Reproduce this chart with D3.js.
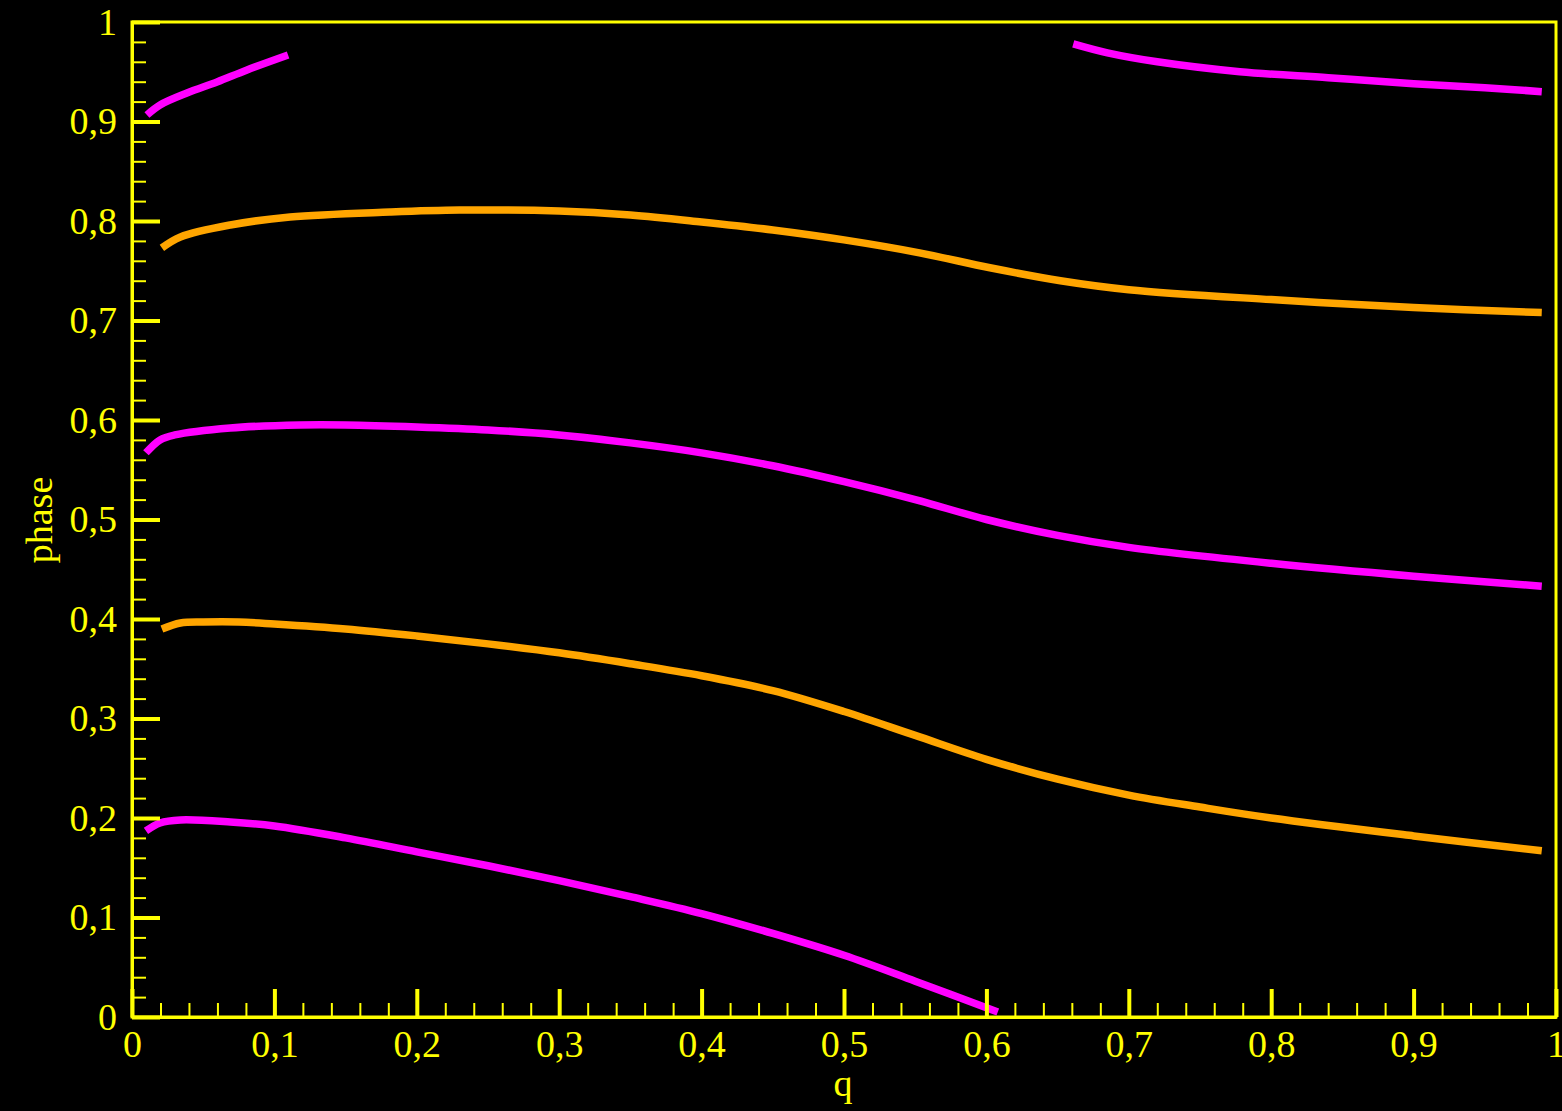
<!DOCTYPE html>
<html>
<head>
<meta charset="utf-8">
<script src="https://cdn.jsdelivr.net/npm/d3@7"></script>
<style>
  html, body { margin: 0; padding: 0; background: #000; }
  svg { display: block; }
  text { font-family: "Liberation Serif", "Times New Roman", serif; fill: #ffff00; }
</style>
</head>
<body>
<svg id="chart" width="1562" height="1111"></svg>
<script>
// Branch curves: [q, phase] pairs
const magentaTop = [
  [0.0105, 0.9065], [0.0197, 0.9166], [0.0386, 0.9286], [0.0597, 0.9397],
  [0.0808, 0.9518], [0.1096, 0.9668]
];
const magentaTopRight = [
  [0.661, 0.978], [0.685, 0.969], [0.720, 0.960], [0.778, 0.950],
  [0.840, 0.944], [0.900, 0.938], [0.950, 0.934], [0.990, 0.930]
];
const orangeUpper = [
  [0.021, 0.773], [0.034, 0.784], [0.069, 0.796], [0.111, 0.804], [0.181, 0.809],
  [0.230, 0.811], [0.300, 0.810], [0.350, 0.806], [0.400, 0.799], [0.450, 0.791],
  [0.500, 0.781], [0.553, 0.768], [0.6025, 0.753], [0.652, 0.740], [0.700, 0.731],
  [0.800, 0.721], [0.900, 0.713], [0.990, 0.708]
];
const magentaMiddle = [
  [0.0098, 0.567], [0.0197, 0.580], [0.030, 0.585], [0.069, 0.592], [0.118, 0.595],
  [0.150, 0.595], [0.200, 0.593], [0.250, 0.590], [0.300, 0.585], [0.350, 0.577],
  [0.400, 0.567], [0.450, 0.554], [0.500, 0.538], [0.550, 0.520], [0.600, 0.500],
  [0.650, 0.484], [0.700, 0.472], [0.800, 0.456], [0.900, 0.443], [0.990, 0.433]
];
const orangeLower = [
  [0.021, 0.390], [0.034, 0.396], [0.050, 0.397], [0.075, 0.397], [0.100, 0.395],
  [0.150, 0.390], [0.200, 0.383], [0.250, 0.375], [0.300, 0.366], [0.350, 0.355],
  [0.400, 0.343], [0.450, 0.328], [0.500, 0.307], [0.550, 0.283], [0.600, 0.259],
  [0.650, 0.239], [0.700, 0.223], [0.750, 0.211], [0.800, 0.200], [0.900, 0.182],
  [0.990, 0.167]
];
const magentaBottom = [
  [0.0098, 0.187], [0.0197, 0.195], [0.034, 0.198], [0.069, 0.196], [0.100, 0.192],
  [0.150, 0.180], [0.200, 0.166], [0.250, 0.152], [0.300, 0.137], [0.350, 0.121],
  [0.400, 0.104], [0.450, 0.084], [0.500, 0.062], [0.550, 0.036], [0.608, 0.005]
];

const series = [
  { points: magentaTop, color: "#ff00ff" },
  { points: magentaTopRight, color: "#ff00ff" },
  { points: orangeUpper, color: "#ffa500" },
  { points: magentaMiddle, color: "#ff00ff" },
  { points: orangeLower, color: "#ffa500" },
  { points: magentaBottom, color: "#ff00ff" }
];

const majorTicks = [0, 0.1, 0.2, 0.3, 0.4, 0.5, 0.6, 0.7, 0.8, 0.9, 1];
const minorTicks = d3.range(0, 51).map(i => i / 50).filter(v => Math.round(v * 50) % 5 !== 0);

const xTitle = "q";
const yTitle = "phase";

const margin = { left: 132, top: 22, right: 6, bottom: 94 };
const W = 1562, H = 1111;
const plotW = W - margin.left - margin.right;
const plotH = H - margin.top - margin.bottom;

const svg = d3.select("#chart");
svg.append("rect").attr("width", W).attr("height", H).attr("fill", "#000");

const g = svg.append("g").attr("transform", `translate(${margin.left},${margin.top})`);

const x = d3.scaleLinear().domain([0, 1]).range([0, plotW]);
const y = d3.scaleLinear().domain([0, 1]).range([plotH, 0]);

const locale = d3.formatLocale({ decimal: ",", thousands: " ", grouping: [3], currency: ["", ""] });
const fmt = locale.format(".1~f");

// Frame (top and right edges)
g.append("rect")
  .attr("x", 0).attr("y", 0).attr("width", plotW).attr("height", plotH)
  .attr("fill", "none").attr("stroke", "#ffff00").attr("stroke-width", 3);

// Curves
const line = d3.line().x(d => x(d[0])).y(d => y(d[1])).curve(d3.curveCatmullRom.alpha(0.5));
g.selectAll("path.curve")
  .data(series)
  .join("path")
  .attr("class", "curve")
  .attr("d", d => line(d.points))
  .attr("fill", "none")
  .attr("stroke", d => d.color)
  .attr("stroke-width", 7.5)
  .attr("stroke-linecap", "butt")
  .attr("stroke-linejoin", "round");

function styleAxis(sel, width) {
  sel.select(".domain").attr("stroke", "#ffff00").attr("stroke-width", 3);
  sel.selectAll(".tick line").attr("stroke", "#ffff00").attr("stroke-width", width);
  sel.selectAll(".tick text")
    .attr("fill", "#ffff00")
    .style("font-family", '"Liberation Serif", serif')
    .style("font-size", "38px");
}

// Minor ticks
g.append("g")
  .attr("transform", `translate(0,${plotH})`)
  .call(d3.axisBottom(x).tickValues(minorTicks).tickSizeInner(-14).tickSizeOuter(0).tickFormat(""))
  .call(s => styleAxis(s, 2));
g.append("g")
  .call(d3.axisLeft(y).tickValues(minorTicks).tickSizeInner(-14).tickSizeOuter(0).tickFormat(""))
  .call(s => styleAxis(s, 2));

// Major ticks with labels
g.append("g")
  .attr("transform", `translate(0,${plotH})`)
  .call(d3.axisBottom(x).tickValues(majorTicks).tickSizeInner(-28).tickSizeOuter(0).tickPadding(13).tickFormat(fmt))
  .call(s => styleAxis(s, 4));
g.append("g")
  .call(d3.axisLeft(y).tickValues(majorTicks).tickSizeInner(-28).tickSizeOuter(0).tickPadding(15).tickFormat(fmt))
  .call(s => styleAxis(s, 4));

// Axis titles
svg.append("text")
  .attr("x", margin.left + x(0.5) - 1)
  .attr("y", 1096)
  .attr("text-anchor", "middle")
  .style("font-size", "38px")
  .text(xTitle);

svg.append("text")
  .attr("transform", "translate(52,520) rotate(-90)")
  .attr("text-anchor", "middle")
  .style("font-size", "38px")
  .text(yTitle);
</script>
</body>
</html>
